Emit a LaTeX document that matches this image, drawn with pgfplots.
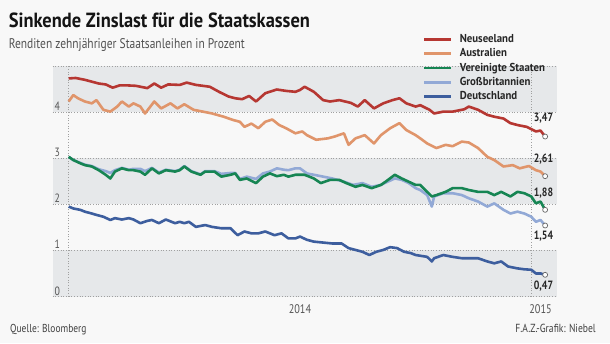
\documentclass[border=0pt]{standalone}
\usepackage{fontspec}
\setmainfont{PT Sans}[FakeStretch=0.82]
\newfontfamily\titlefont{PT Sans}[FakeStretch=0.9]
\newfontfamily\legfont{PT Sans}[FakeStretch=0.94]
\usepackage{pgfplots}
\pgfplotsset{compat=1.18}
\definecolor{bgc}{HTML}{F8F8F8}
\definecolor{bandc}{HTML}{E6E8EA}
\definecolor{nzc}{HTML}{B63732}
\definecolor{auc}{HTML}{E0956B}
\definecolor{usc}{HTML}{168553}
\definecolor{gbc}{HTML}{92A9D6}
\definecolor{dec}{HTML}{3D5E9E}
\definecolor{gridc}{HTML}{A0A0A0}
\definecolor{tickc}{HTML}{555555}
\tikzset{ytl/.style={anchor=base, inner sep=0pt, text=tickc, font=\fontsize{12}{12}\selectfont, yshift=1.5pt},
  endl/.style={inner sep=0pt, text=black!85, font=\fontsize{12}{12}\selectfont\bfseries},
  gl/.style={gridc, dotted, line width=0.7pt}}
\begin{document}
\begin{tikzpicture}
\fill[bgc] (0,0) rectangle (610pt,343pt);
\node[anchor=base west, inner sep=0pt, text=black!92] at (8.6pt,315.5pt) {\titlefont\fontsize{20.5}{20.5}\selectfont\bfseries Sinkende Zinslast für die Staatskassen};
\node[anchor=base west, inner sep=0pt, text=black!68] at (8.6pt,294.5pt) {\fontsize{14}{14}\selectfont Renditen zehnjähriger Staatsanleihen in Prozent};
\node[anchor=base west, inner sep=0pt, text=black!75] at (10pt,11pt) {\fontsize{11.5}{11.5}\selectfont Quelle: Bloomberg};
\node[anchor=base east, inner sep=0pt, text=black!75] at (596pt,11pt) {\fontsize{11.7}{11.7}\selectfont F.A.Z.-Grafik: Niebel};
\begin{axis}[
  at={(52.5pt,46.5pt)}, anchor=south west,
  scale only axis, width=504.2pt, height=230.5pt,
  xmin=2012.93, xmax=2015.11, ymin=0, ymax=5,
  axis line style={draw=none},
  xtick=\empty, ytick=\empty,
  clip=false,
  legend cell align=left,
  legend style={at={(0.7348,1.1367)}, anchor=north west, draw=none, fill=none,
    inner sep=0pt, outer sep=0pt, row sep=4.3pt, column sep=7pt,
    font=\legfont\fontsize{11.5}{11.5}\selectfont\bfseries, text=black!85,
    nodes={inner sep=0pt, text height=8pt, text depth=2pt}},
  legend image code/.code={\draw[#1, line width=2.8pt] (0pt,0pt) -- (27pt,0pt);},
]
\fill[bandc] (axis cs:2012.93,0) rectangle (axis cs:2015.11,1);
\fill[bandc] (axis cs:2012.93,2) rectangle (axis cs:2015.11,3);
\fill[bandc] (axis cs:2012.93,4) rectangle (axis cs:2015.11,5);
\draw[gl] (axis cs:2012.93,0) -- (axis cs:2015.11,0);
\draw[gl] (axis cs:2012.93,1) -- (axis cs:2015.11,1);
\draw[gl] (axis cs:2012.93,2) -- (axis cs:2015.11,2);
\draw[gl] (axis cs:2012.93,3) -- (axis cs:2015.11,3);
\draw[gl] (axis cs:2012.93,4) -- (axis cs:2015.11,4);
\draw[gl] (axis cs:2012.93,5) -- (axis cs:2015.11,5);
\draw[gl] (axis cs:2013,0) -- (axis cs:2013,5);
\draw[gl] (axis cs:2015,0) -- (axis cs:2015,5);

\addplot[nzc, line width=2.6pt, line join=round] coordinates {
(2013.00,4.73)(2013.03,4.74)(2013.07,4.70)(2013.10,4.66)(2013.13,4.62)(2013.16,4.60)
(2013.19,4.53)(2013.22,4.58)(2013.25,4.58)(2013.29,4.57)(2013.34,4.52)(2013.37,4.62)
(2013.40,4.53)(2013.43,4.60)(2013.48,4.59)(2013.51,4.64)(2013.55,4.59)(2013.61,4.55)
(2013.65,4.44)(2013.69,4.34)(2013.72,4.30)(2013.75,4.28)(2013.78,4.35)(2013.81,4.23)
(2013.85,4.41)(2013.90,4.49)(2013.94,4.46)(2013.98,4.44)(2014.00,4.48)(2014.02,4.55)
(2014.06,4.44)(2014.10,4.26)(2014.13,4.23)(2014.17,4.26)(2014.22,4.20)(2014.25,4.12)
(2014.28,4.26)(2014.32,4.08)(2014.36,4.19)(2014.40,4.26)(2014.43,4.30)(2014.46,4.19)
(2014.50,4.12)(2014.52,4.15)(2014.56,4.05)(2014.58,3.97)(2014.62,4.01)(2014.66,4.01)
(2014.71,4.06)(2014.73,4.12)(2014.77,4.05)(2014.81,3.94)(2014.84,3.90)(2014.88,3.86)
(2014.91,3.76)(2014.94,3.72)(2014.98,3.68)(2015.02,3.58)(2015.04,3.60)(2015.06,3.47)};
\addlegendentry{Neuseeland}

\addplot[auc, line width=2.6pt, line join=round] coordinates {
(2013.00,4.23)(2013.02,4.37)(2013.04,4.30)(2013.07,4.23)(2013.10,4.19)(2013.12,4.26)
(2013.15,4.05)(2013.18,4.01)(2013.21,4.12)(2013.23,4.23)(2013.26,4.12)(2013.28,4.19)
(2013.31,4.12)(2013.33,3.97)(2013.37,4.23)(2013.40,4.08)(2013.44,4.19)(2013.47,4.08)
(2013.50,4.17)(2013.54,4.05)(2013.58,4.01)(2013.62,3.97)(2013.67,3.90)(2013.71,3.83)
(2013.74,3.79)(2013.76,3.68)(2013.79,3.75)(2013.82,3.65)(2013.85,3.79)(2013.88,3.84)
(2013.91,3.72)(2013.94,3.65)(2013.98,3.54)(2014.01,3.58)(2014.03,3.50)(2014.07,3.40)
(2014.12,3.43)(2014.15,3.47)(2014.19,3.54)(2014.21,3.29)(2014.24,3.43)(2014.28,3.50)
(2014.32,3.32)(2014.35,3.50)(2014.39,3.65)(2014.43,3.76)(2014.46,3.61)(2014.50,3.50)
(2014.52,3.43)(2014.55,3.32)(2014.59,3.22)(2014.63,3.29)(2014.66,3.26)(2014.70,3.36)
(2014.73,3.34)(2014.77,3.22)(2014.81,3.03)(2014.84,2.96)(2014.88,2.82)(2014.92,2.85)
(2014.95,2.78)(2014.99,2.83)(2015.02,2.74)(2015.04,2.71)(2015.06,2.61)};
\addlegendentry{Australien}

\addplot[gbc, line width=2.6pt, line join=round, forget plot] coordinates {
(2013.00,3.03)(2013.02,2.96)(2013.05,2.90)(2013.07,2.86)(2013.10,2.83)(2013.13,2.76)
(2013.16,2.72)(2013.18,2.68)(2013.20,2.74)(2013.23,2.79)(2013.26,2.75)(2013.28,2.77)
(2013.31,2.77)(2013.33,2.72)(2013.36,2.79)(2013.39,2.69)(2013.42,2.75)(2013.46,2.72)
(2013.48,2.75)(2013.50,2.83)(2013.53,2.72)(2013.57,2.65)(2013.59,2.72)(2013.63,2.72)
(2013.66,2.66)(2013.70,2.68)(2013.72,2.68)(2013.74,2.55)(2013.77,2.60)(2013.81,2.55)
(2013.84,2.67)(2013.87,2.71)(2013.90,2.78)(2013.93,2.75)(2013.95,2.74)(2013.98,2.78)
(2014.00,2.78)(2014.03,2.67)(2014.06,2.64)(2014.10,2.60)(2014.14,2.56)(2014.19,2.49)
(2014.23,2.42)(2014.27,2.46)(2014.31,2.38)(2014.35,2.42)(2014.37,2.47)(2014.41,2.56)
(2014.44,2.53)(2014.47,2.46)(2014.50,2.35)(2014.52,2.31)(2014.55,2.20)(2014.57,1.95)
(2014.58,2.17)(2014.62,2.24)(2014.66,2.24)(2014.70,2.20)(2014.73,2.13)(2014.77,2.06)
(2014.81,1.95)(2014.84,2.02)(2014.88,1.88)(2014.91,1.80)(2014.94,1.84)(2014.97,1.80)
(2015.00,1.73)(2015.02,1.62)(2015.04,1.66)(2015.06,1.54)};

\addplot[usc, line width=2.6pt, line join=round] coordinates {
(2013.00,3.03)(2013.02,2.96)(2013.05,2.89)(2013.07,2.85)(2013.10,2.82)(2013.13,2.74)
(2013.16,2.64)(2013.18,2.56)(2013.20,2.71)(2013.23,2.78)(2013.26,2.74)(2013.28,2.74)
(2013.31,2.71)(2013.33,2.64)(2013.36,2.78)(2013.39,2.67)(2013.42,2.74)(2013.46,2.71)
(2013.48,2.74)(2013.50,2.82)(2013.53,2.71)(2013.57,2.64)(2013.59,2.71)(2013.63,2.71)
(2013.66,2.60)(2013.70,2.64)(2013.72,2.67)(2013.74,2.53)(2013.77,2.56)(2013.81,2.46)
(2013.84,2.60)(2013.87,2.67)(2013.90,2.61)(2013.93,2.64)(2013.95,2.60)(2013.98,2.64)
(2014.02,2.64)(2014.06,2.56)(2014.09,2.46)(2014.13,2.53)(2014.17,2.53)(2014.20,2.46)
(2014.24,2.38)(2014.27,2.42)(2014.31,2.35)(2014.35,2.42)(2014.37,2.49)(2014.41,2.64)
(2014.44,2.56)(2014.47,2.49)(2014.50,2.42)(2014.52,2.42)(2014.55,2.27)(2014.57,2.17)
(2014.59,2.20)(2014.63,2.27)(2014.66,2.35)(2014.70,2.35)(2014.73,2.31)(2014.77,2.27)
(2014.81,2.27)(2014.84,2.20)(2014.87,2.27)(2014.91,2.17)(2014.94,2.27)(2014.97,2.24)
(2015.00,2.17)(2015.02,2.02)(2015.04,2.06)(2015.06,1.88)};
\addlegendentry{Vereinigte Staaten}
\addlegendimage{gbc}
\addlegendentry{Großbritannien}

\addplot[dec, line width=2.6pt, line join=round] coordinates {
(2013.00,1.95)(2013.02,1.91)(2013.05,1.88)(2013.07,1.84)(2013.10,1.80)(2013.12,1.77)
(2013.15,1.73)(2013.18,1.66)(2013.20,1.70)(2013.23,1.67)(2013.26,1.70)(2013.28,1.67)
(2013.31,1.59)(2013.34,1.64)(2013.36,1.66)(2013.39,1.59)(2013.42,1.67)(2013.46,1.59)
(2013.48,1.62)(2013.50,1.59)(2013.52,1.62)(2013.55,1.51)(2013.59,1.55)(2013.62,1.51)
(2013.66,1.48)(2013.70,1.48)(2013.73,1.33)(2013.76,1.41)(2013.79,1.37)(2013.82,1.37)
(2013.85,1.41)(2013.89,1.33)(2013.92,1.37)(2013.95,1.26)(2013.98,1.26)(2014.00,1.30)
(2014.03,1.23)(2014.06,1.19)(2014.10,1.17)(2014.14,1.15)(2014.18,1.15)(2014.21,1.05)
(2014.24,1.01)(2014.27,0.97)(2014.30,0.90)(2014.33,0.97)(2014.36,1.01)(2014.39,1.07)
(2014.42,1.05)(2014.45,0.97)(2014.48,0.94)(2014.50,0.90)(2014.55,0.86)(2014.57,0.76)
(2014.58,0.83)(2014.62,0.90)(2014.66,0.86)(2014.70,0.83)(2014.73,0.83)(2014.77,0.83)
(2014.81,0.76)(2014.84,0.72)(2014.87,0.76)(2014.90,0.65)(2014.94,0.61)(2014.97,0.59)
(2015.00,0.58)(2015.02,0.50)(2015.04,0.50)(2015.06,0.47)};
\addlegendentry{Deutschland}

\addplot[only marks, mark=*, mark size=2.5pt, mark options={fill=white, draw=black!60, line width=0.7pt}, forget plot]
 coordinates {(2015.06,3.47)(2015.06,2.61)(2015.06,1.88)(2015.06,1.54)(2015.06,0.47)};

\node[ytl] at (axis cs:2012.951,0) {0};
\node[ytl] at (axis cs:2012.951,1) {1};
\node[ytl] at (axis cs:2012.951,2) {2};
\node[ytl] at (axis cs:2012.951,3) {3};
\node[ytl] at (axis cs:2012.951,4) {4};
\node[anchor=base, inner sep=0pt, text=tickc, font=\fontsize{12.5}{12.5}\selectfont, yshift=-17pt] at (axis cs:2014,0) {2014};
\node[anchor=base, inner sep=0pt, text=tickc, font=\fontsize{12.5}{12.5}\selectfont, yshift=-17pt] at (axis cs:2015.04,0) {2015};

\node[endl, yshift=18.5pt] at (axis cs:2015.053,3.47) {3,47};
\node[endl, yshift=17pt] at (axis cs:2015.053,2.61) {2,61};
\node[endl, yshift=17pt] at (axis cs:2015.053,1.88) {1,88};
\node[endl, yshift=-11pt] at (axis cs:2015.053,1.54) {1,54};
\node[endl, yshift=-11pt] at (axis cs:2015.053,0.47) {0,47};
\end{axis}
\end{tikzpicture}
\end{document}
